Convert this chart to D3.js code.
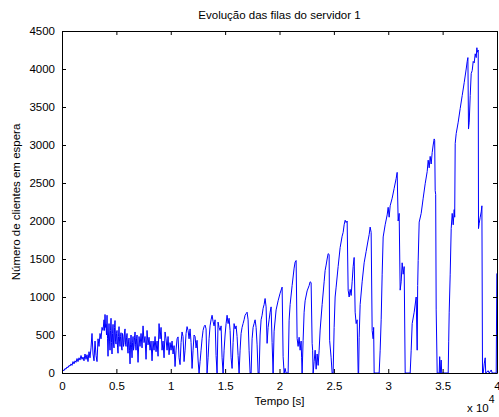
<!DOCTYPE html>
<html>
<head>
<meta charset="utf-8">
<script src="https://cdn.jsdelivr.net/npm/d3@7"></script>
<style>
  body { margin: 0; background: #fff; }
  svg text { font-family: "Liberation Sans", Arial, sans-serif; font-size: 11.5px; fill: #000; }
</style>
</head>
<body>
<svg id="svg_filas" width="499" height="417"></svg>
<script>
// Evolucao das filas do servidor 1 - valores lidos do grafico
// cada ponto: [tempo (s), numero de clientes em espera]

// rampa inicial e banda ruidosa (0 - 9.5e3 s)
const faseInicial = [
  [0, 20], [92, 40], [184, 30], [276, 60], [368, 50], [460, 80], [552, 70], [644, 100],
  [736, 90], [828, 120], [920, 100], [1012, 150], [1104, 120], [1196, 160], [1288, 140],
  [1380, 190], [1472, 150], [1564, 200], [1656, 170], [1748, 230], [1840, 180], [1932, 210],
  [2024, 160], [2116, 250], [2208, 180], [2300, 240], [2392, 150], [2484, 280], [2576, 200],
  [2668, 330], [2760, 520], [2852, 250], [2944, 160], [3036, 420], [3128, 230], [3220, 150],
  [3312, 450], [3404, 350], [3496, 520], [3588, 450], [3680, 600], [3772, 560], [3864, 700],
  [3910, 560], [3956, 770], [4002, 600], [4048, 640], [4094, 500], [4140, 760], [4186, 450],
  [4232, 220], [4278, 500], [4324, 650], [4370, 420], [4416, 300], [4462, 560], [4508, 720],
  [4554, 400], [4600, 250], [4646, 520], [4692, 640], [4738, 380], [4784, 330], [4830, 600],
  [4876, 690], [4922, 420], [4968, 380], [5014, 520], [5060, 560], [5106, 340], [5152, 260],
  [5198, 480], [5244, 610], [5290, 420], [5336, 350], [5382, 480], [5428, 530], [5474, 330],
  [5520, 300], [5566, 520], [5612, 480], [5658, 350], [5704, 400], [5750, 540], [5796, 580],
  [5842, 380], [5888, 350], [5934, 470], [5980, 520], [6026, 330], [6072, 260], [6118, 420],
  [6164, 460], [6210, 300], [6256, 120], [6302, 380], [6348, 500], [6394, 330], [6440, 200],
  [6486, 400], [6532, 480], [6578, 300], [6624, 350], [6670, 470], [6716, 540], [6762, 380],
  [6808, 300], [6854, 450], [6900, 500], [6992, 140], [7084, 480],
  [7176, 350], [7268, 520], [7360, 330], [7452, 620], [7544, 400], [7636, 480], [7728, 180],
  [7820, 560], [7912, 370], [8004, 470], [8096, 300], [8188, 420], [8280, 160], [8372, 420],
  [8464, 300], [8556, 480], [8648, 280], [8740, 420], [8832, 220], [8924, 650], [9016, 450],
  [9108, 600], [9200, 300], [9292, 420], [9384, 200], [9476, 540]
];

// oscilacoes que comecam a esvaziar a fila (9.5e3 - 19.4e3 s)
const faseOscilacao = [
  [9568, 450], [9660, 300], [9752, 480], [9844, 240], [9936, 400], [10028, 300], [10120, 420],
  [10212, 250], [10304, 360], [10396, 85], [10488, 300], [10580, 450], [10672, 475], [10764, 200],
  [10856, 110], [10948, 400], [11040, 540], [11132, 480], [11224, 150], [11316, 300], [11408, 520],
  [11500, 610], [11592, 560], [11684, 450], [11776, 580], [11868, 400], [11960, 60], [12052, 300],
  [12144, 500], [12236, 480], [12328, 330], [12420, 430], [12512, 170], [12604, 0], [12696, 150],
  [12788, 300], [12880, 450], [12972, 560], [13064, 610], [13156, 630], [13248, 580], [13340, 0],
  [13432, 200], [13524, 450], [13616, 620], [13708, 700], [13800, 760], [13892, 680], [13984, 620],
  [14076, 700], [14168, 230], [14260, 0], [14352, 670], [14444, 600], [14536, 560], [14628, 620],
  [14720, 200], [14812, 0], [14904, 300], [14996, 500], [15088, 650], [15180, 760], [15272, 650],
  [15364, 720], [15456, 560], [15548, 200], [15640, 60], [15732, 400], [15824, 650], [15916, 580],
  [16008, 620], [16100, 480], [16192, 230], [16284, 0], [16376, 300], [16468, 520], [16560, 600],
  [16652, 650], [16744, 700], [16836, 760], [16928, 780], [17020, 800], [17112, 700], [17204, 300],
  [17296, 0], [17388, 0], [17480, 450], [17572, 600], [17664, 650], [17756, 700], [17848, 600],
  [17940, 370], [18032, 0], [18124, 0], [18216, 500], [18308, 700], [18400, 760], [18492, 850],
  [18584, 900], [18676, 980], [18768, 870], [18860, 390], [18952, 600], [19044, 700], [19136, 800],
  [19228, 870], [19320, 400], [19412, 0]
];

// ciclos em dente de serra cada vez maiores (19.4e3 - 40e3 s)
const faseDenteSerra = [
  [19504, 550], [19688, 830], [19872, 950], [20056, 1050], [20240, 1130], [20332, 215], [20424, 0],
  [20516, 60], [20608, 0], [20792, 0],
  [20884, 695], [20976, 900], [21160, 1150], [21344, 1380], [21436, 1460], [21528, 1480],
  [21620, 455], [21712, 350], [21804, 470], [21896, 300], [21988, 420], [22034, 200], [22080, 0],
  [22172, 430], [22264, 800], [22356, 950], [22540, 1080], [22724, 1150], [22816, 1200],
  [22908, 1190], [23000, 390], [23046, 300], [23092, 0],
  [23184, 150], [23276, 300], [23368, 50], [23460, 250], [23552, 100], [23644, 300],
  [23736, 565], [23920, 900], [24104, 1200], [24196, 1350], [24288, 1420], [24380, 1500],
  [24472, 1570], [24564, 1560], [24610, 430], [24748, 200], [24840, 0],
  [24932, 0], [25024, 600], [25116, 1000], [25208, 1130], [25392, 1400], [25576, 1650],
  [25760, 1800], [25852, 1850], [25944, 1950], [26036, 2010], [26128, 1980], [26220, 2000],
  [26312, 1090], [26404, 1000], [26496, 1100], [26588, 1020], [26680, 1200], [26772, 1400],
  [26864, 1520], [26956, 800], [27048, 650], [27140, 700], [27232, 0],
  [27278, 0], [27324, 470], [27416, 900], [27600, 1200], [27784, 1450], [27968, 1600],
  [28152, 1750], [28244, 1820], [28336, 1920], [28428, 1850], [28520, 560], [28612, 450],
  [28658, 600], [28704, 0],
  [29164, 0], [29256, 300], [29348, 700], [29440, 1300], [29532, 1790], [29716, 1950],
  [29900, 2080], [29992, 2180], [30084, 2050], [30176, 2200], [30360, 2300], [30544, 2430],
  [30728, 2560], [30820, 2640], [30912, 2000], [31004, 2100], [31096, 1090], [31188, 1200],
  [31280, 1450], [31372, 1300], [31464, 1400], [31556, 0],
  [32016, 0], [32108, 300], [32200, 650], [32384, 800], [32568, 1000], [32660, 300],
  [32706, 1150], [32752, 1480], [32844, 1985], [33028, 2100], [33212, 2300], [33396, 2490],
  [33580, 2650], [33672, 2800], [33764, 2700], [33856, 2850], [33948, 2750], [34040, 2900],
  [34132, 3000], [34224, 3080], [34270, 3060], [34316, 2400], [34362, 2350], [34408, 830],
  [34500, 0],
  [34684, 0], [34730, 215], [34776, 0], [34868, 170], [34914, 0], [35420, 0],
  [35512, 0], [35558, 410], [35604, 800], [35696, 1300], [35788, 1900], [35880, 2100],
  [35972, 1950], [36064, 2150], [36110, 2050], [36156, 3020], [36248, 3150], [36432, 3300],
  [36616, 3480], [36800, 3650], [36984, 3820], [37168, 4000], [37260, 4100], [37324, 4150],
  [37380, 3210], [37444, 3300], [37536, 3650], [37628, 3940], [37720, 3980], [37812, 4100],
  [37904, 4080], [37996, 4200], [38088, 4150], [38152, 4280], [38180, 4220], [38272, 4250],
  [38300, 1900], [38364, 1970], [38456, 2050], [38548, 2120], [38612, 2200], [38668, 0],
  [38732, 0], [38824, 120], [38916, 200], [38962, 0], [39192, 30], [39284, 0], [39468, 40],
  [39560, 0], [39928, 0], [39983, 1310]
];

const ticksX = [0, 5000, 10000, 15000, 20000, 25000, 30000, 35000, 40000];
const ticksY = [0, 500, 1000, 1500, 2000, 2500, 3000, 3500, 4000, 4500];

const svg = d3.select("#svg_filas");
const padding = { top: 31, right: 2, bottom: 44, left: 62 };
const width = 499, height = 417;

let xScale = d3.scaleLinear()
    .domain([0, 40000])
    .range([padding.left, width - padding.right]);

let yScale = d3.scaleLinear()
    .domain([0, 4500])
    .range([height - padding.bottom, padding.top]);

let dados = faseInicial.concat(faseOscilacao, faseDenteSerra);

// clip para a area dos eixos
svg.append("clipPath").attr("id", "area")
    .append("rect")
    .attr("x", padding.left).attr("y", padding.top)
    .attr("width", width - padding.left - padding.right)
    .attr("height", height - padding.top - padding.bottom);

let linha = d3.line()
    .x(d => xScale(d[0]))
    .y(d => yScale(d[1]));

svg.append("path")
    .datum(dados)
    .attr("clip-path", "url(#area)")
    .attr("fill", "none")
    .attr("stroke", "#0000ff")
    .attr("stroke-width", 1)
    .attr("d", linha);

// eixos estilo matlab: ticks para dentro nos quatro lados
const fmtX = d => d3.format("~g")(d / 1e4);
let axes = [
    { ax: d3.axisBottom(xScale).tickValues(ticksX).tickFormat(fmtX), t: [0, height - padding.bottom] },
    { ax: d3.axisTop(xScale).tickValues(ticksX).tickFormat(""), t: [0, padding.top] },
    { ax: d3.axisLeft(yScale).tickValues(ticksY).tickFormat(d3.format("d")), t: [padding.left, 0] },
    { ax: d3.axisRight(yScale).tickValues(ticksY).tickFormat(""), t: [width - padding.right, 0] }
];
axes.forEach((a, i) => {
    let g = svg.append("g")
        .attr("transform", "translate(" + a.t[0] + "," + a.t[1] + ")")
        .call(a.ax.tickSizeInner(-4).tickSizeOuter(0).tickPadding(i == 0 ? 9 : 7));
    g.select(".domain").attr("stroke", "#000");
    g.selectAll(".tick line").attr("stroke", "#000");
    g.selectAll("text").attr("font-size", null).attr("font-family", null);
});
svg.selectAll(".tick text").filter(function () { return this.textContent === ""; }).remove();

// textos
const cx = (padding.left + width - padding.right) / 2;
svg.append("text").attr("x", cx).attr("y", 19)
    .attr("text-anchor", "middle")
    .text("Evolução das filas do servidor 1");

svg.append("text").attr("x", cx).attr("y", 405)
    .attr("text-anchor", "middle")
    .text("Tempo [s]");

svg.append("text")
    .attr("transform", "translate(20," + ((padding.top + height - padding.bottom) / 2) + ") rotate(-90)")
    .attr("text-anchor", "middle")
    .text("Número de clientes em espera");

let expo = svg.append("text").attr("x", 467).attr("y", 412);
expo.append("tspan").text("x 10");
expo.append("tspan").attr("dy", -9).attr("font-size", "10.5px").text("4");
</script>
</body>
</html>
